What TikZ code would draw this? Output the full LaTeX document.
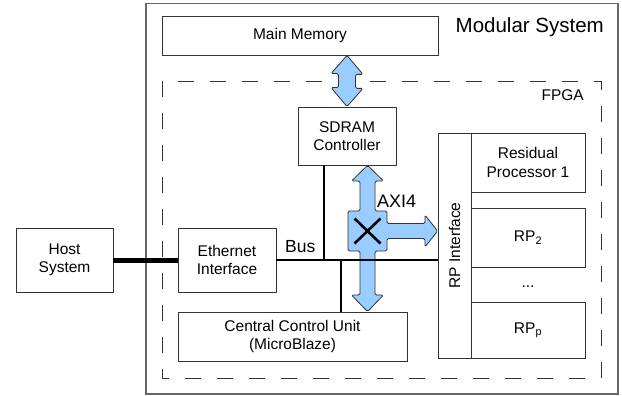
\documentclass[tikz,border=0pt]{standalone}
\usepackage{fontspec}
\setmainfont{Liberation Sans}
\usepackage{tikz}
\usetikzlibrary{positioning,calc}
\definecolor{axiblue}{HTML}{99CCFF}
\newcommand{\lblfont}{\fontsize{15.5}{18.3}\selectfont}
\tikzset{
blk/.style={draw=black!80, line width=0.8pt, fill=white, align=center, inner sep=0pt, font=\lblfont},
sysbox/.style={draw=black!60, line width=1.2pt},
fpgabox/.style={draw=black!80, line width=0.8pt, dash pattern=on 16pt off 16pt},
busline/.style={line width=2.3pt},
hostline/.style={line width=5pt},
fat/.style={draw=black!80, line width=0.8pt, fill=axiblue, rounded corners=1.5pt},
xcross/.style={line width=2.6pt},
tag/.style={inner sep=0pt, font=\lblfont}
}

\begin{document}
\begin{tikzpicture}[x=1pt, y=-1pt]
\useasboundingbox (0,0) rectangle (622,396);
\draw[sysbox] (146,3.5) rectangle (618,394);
\draw[fpgabox] (162,81) rectangle (601,378);
\node[tag, anchor=base east, font=\fontsize{20.5}{24}\selectfont] (modsys) at (604,33) {Modular System};
\node[tag, anchor=base east] (fpga) at (584,101) {FPGA};
\node[blk, minimum width=276pt, minimum height=39pt] (mem) at (300,35.5) {Main Memory};
\node[blk, minimum width=98pt, minimum height=58pt] (sdram) at (347,136) {SDRAM\\Controller};
\node[blk, minimum width=97pt, minimum height=64pt] (host) at (64.5,260) {Host\\System};
\node[blk, minimum width=98pt, minimum height=64pt] (eth) at (227,260) {Ethernet\\Interface};
\node[blk, minimum width=229pt, minimum height=49pt] (ccu) at (292.5,336.5) {Central Control Unit\\(MicroBlaze)};
\node[blk, minimum width=33pt, minimum height=225pt] (rpi) at (454.5,245.5) {};
\node[tag, rotate=90] (rpitxt) at (rpi.center) {RP Interface};
\node[blk, minimum width=114pt, minimum height=59pt] (rp1) at (528,162.5) {Residual\\Processor 1};
\node[blk, minimum width=114pt, minimum height=59pt] (rp2) at (528,237.5) {RP\textsubscript{2}};
\node[tag, anchor=base] (dots) at (528,287) {...};
\node[blk, minimum width=114pt, minimum height=56pt] (rpp) at (528,330) {RP\textsubscript{p}};
\node[tag, anchor=base west, font=\fontsize{17.5}{20}\selectfont] (buslbl) at (285,252) {Bus};
\node[tag, anchor=base west, font=\fontsize{18}{20}\selectfont] (axi) at (377,207) {AXI4};
\draw[hostline] (host.east) -- (eth.west);
\draw[fat] (sdram.north |- mem.south) -- ++(16,19) -- ++(-7.5,0) -- ++(0,14) -- ++(7.5,0) -- (sdram.north) -- ++(-16,-19) -- ++(7.5,0) -- ++(0,-14) -- ++(-7.5,0) -- cycle;
\coordinate (xb) at (367.5,231);
\draw[fat] (xb |- sdram.south) -- (383.5,181) -- (375,181) -- (375,211) -- (387,211) -- (387,223.5) -- (425,223.5) -- (425,215) -- (rpi.west |- xb) -- (425,247) -- (425,238.5) -- (387,238.5) -- (387,251) -- (375,251) -- (375,295) -- (383.5,295) -- (xb |- ccu.north) -- (351.5,295) -- (360,295) -- (360,251) -- (348,251) -- (348,211) -- (360,211) -- (360,181) -- (351.5,181) -- cycle;
\draw[xcross] ($(xb)+(-13,-12.5)$) -- ($(xb)+(13,12.5)$) ($(xb)+(13,-12.5)$) -- ($(xb)+(-13,12.5)$);
\coordinate (j1) at (324,260);
\coordinate (j2) at (341,260);
\draw[busline] (eth.east) -- (eth.east -| rpi.west);
\draw[busline] (j1 |- sdram.south) -- (j1);
\draw[busline] (j2) -- (j2 |- ccu.north);
\end{tikzpicture}
\end{document}
